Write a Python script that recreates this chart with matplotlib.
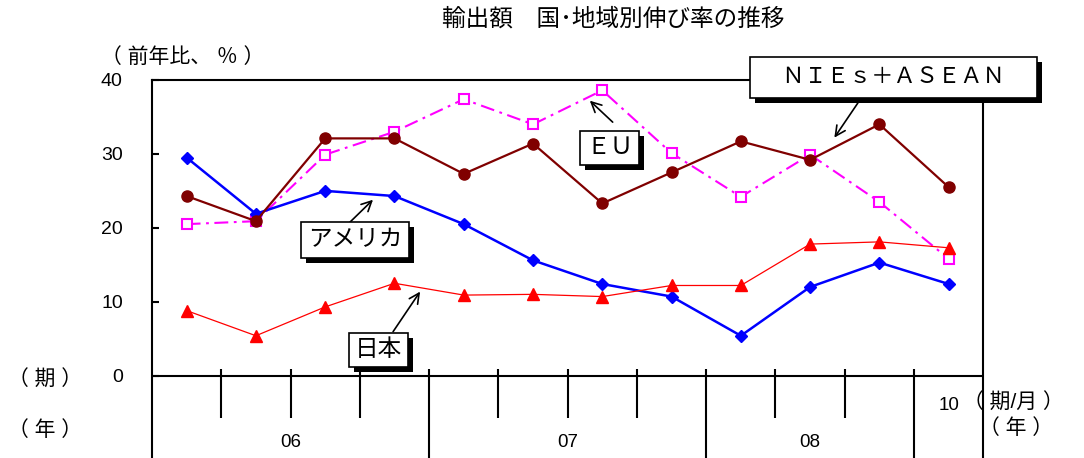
import matplotlib
matplotlib.use("Agg")
import matplotlib.pyplot as plt
import matplotlib.patheffects as pe
import numpy as np

plt.rcParams["font.family"] = ["Liberation Sans", "Noto Sans CJK JP"]
plt.rcParams["lines.scale_dashes"] = False

# data (y/y % change of exports, 2006Q1 .. 2008Q3, then Oct 2008)
america = [29.5, 21.9, 25.0, 24.3, 20.5, 15.6, 12.4, 10.7, 5.4, 12.0, 15.3, 12.4]
nies_asean = [24.3, 20.9, 32.1, 32.1, 27.3, 31.4, 23.3, 27.5, 31.7, 29.2, 34.0, 25.5]
eu = [20.5, 20.9, 29.9, 33.0, 37.4, 34.0, 38.6, 30.1, 24.2, 29.9, 23.5, 15.8]
japan = [8.8, 5.4, 9.3, 12.5, 10.9, 11.0, 10.7, 12.2, 12.2, 17.8, 18.1, 17.3]
period_labels = [""] * 11 + ["10"]
year_labels = ["06", "07", "08"]
year_slots = [4, 4, 3]

n = len(america)
x = np.arange(n) + 0.5
ybot = -11.14

fig = plt.figure(figsize=(10.84, 4.58), dpi=100)
ax = fig.add_axes([152 / 1084, 0.0, (983.3 - 152) / 1084, (458 - 80) / 458])
ax.set_xlim(0, n)
ax.set_ylim(ybot, 40)

ax.plot(x, eu, color="#FF00FF", lw=1.5, ls=(0, (10, 4, 2, 4)), marker="s",
        ms=7, mfc="white", mec="#FF00FF", mew=1.5, zorder=3)
ax.plot(x, america, color="#0000FF", lw=1.8, marker="D", ms=6.5, zorder=4)
ax.plot(x, japan, color="#FF0000", lw=0.9, marker="^", ms=8, zorder=5)
ax.plot(x, nies_asean, color="#800000", lw=1.6, marker="o", ms=8, zorder=6)

# axes frame
for s in ["left", "right", "top"]:
    ax.spines[s].set_linewidth(1.5)
ax.spines["bottom"].set_visible(False)
ax.axhline(0, color="black", lw=1.5, zorder=2)
ax.set_yticks([0, 10, 20, 30, 40])
ax.tick_params(axis="y", direction="in", length=5, width=1.5, pad=21, labelsize=14)
ax.set_xticks([])

# period / year separators below the zero line
bounds = np.cumsum(year_slots)
short = [b for b in range(1, n) if b not in bounds]
ax.vlines(short, -5.7, 0.9, color="black", lw=1.5)
ax.vlines(bounds, ybot, 0.9, color="black", lw=1.5)
for xi, lab in zip(x, period_labels):
    if lab:
        ax.text(xi, -4.0, lab, ha="center", va="center", fontsize=13.5)
start = 0
for lab, w in zip(year_labels, year_slots):
    ax.text(start + w / 2, -9.0, lab, ha="center", va="center", fontsize=13.5)
    start += w

# labels outside the plot
fig.text(613 / 1084, 1 - 19 / 458, "輸出額　国･地域別伸び率の推移", ha="center",
         va="center", fontsize=17)
fig.text(183 / 1084, 1 - 57 / 458, "（ 前年比、 ％ ）", ha="center", va="center", fontsize=15)
fig.text(45 / 1084, 1 - 380 / 458, "（ 期 ）", ha="center", va="center", fontsize=15)
fig.text(45 / 1084, 1 - 430 / 458, "（ 年 ）", ha="center", va="center", fontsize=15)
fig.text(963 / 1084, 1 - 403 / 458, "（ 期/月 ）", ha="left", va="center", fontsize=15)
fig.text(1016 / 1084, 1 - 428 / 458, "（ 年 ）", ha="center", va="center", fontsize=15)


def label_box(txt, cx, cy, tail, tip, size=17, pad=0.25):
    t = ax.text(cx, cy, txt, ha="center", va="center", fontsize=size, zorder=10,
                bbox=dict(boxstyle=f"square,pad={pad}", fc="white", ec="black", lw=1.2))
    t.get_bbox_patch().set_path_effects([
        pe.SimplePatchShadow(offset=(3.6, -3.6), shadow_rgbFace="black", alpha=1),
        pe.Normal()])
    ax.annotate("", xy=tip, xytext=tail, zorder=9,
                arrowprops=dict(arrowstyle="->", color="black", lw=1.2,
                                shrinkA=0, shrinkB=0, mutation_scale=18))


label_box("　ＮＩＥｓ＋ＡＳＥＡＮ　", 10.71, 40.4, (10.19, 36.9), (9.85, 32.2),
          size=16, pad=0.45)
label_box("ＥＵ", 6.61, 30.8, (6.65, 34.3), (6.32, 37.2))
label_box("アメリカ", 2.93, 18.3, (2.85, 20.7), (3.19, 23.8), pad=0.3)
label_box("日本", 3.27, 3.48, (3.48, 5.95), (3.87, 11.37))

fig.savefig("out.png", dpi=100)
